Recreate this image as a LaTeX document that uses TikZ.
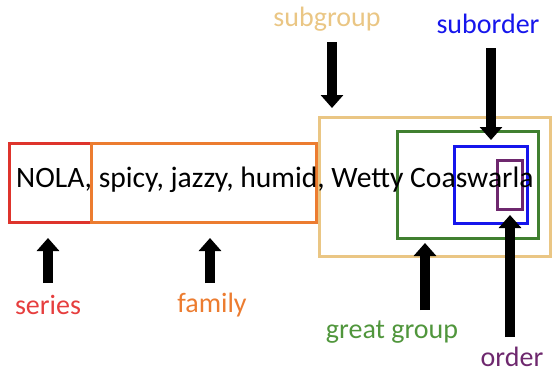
\documentclass[tikz,border=0pt]{standalone}
\usepackage{fontspec}
\setmainfont{Carlito}
\usetikzlibrary{arrows.meta}
\definecolor{cseries}{RGB}{222,52,44}
\definecolor{cfamily}{RGB}{236,124,48}
\definecolor{csubgroup}{RGB}{234,198,132}
\definecolor{cgreat}{RGB}{64,128,48}
\definecolor{csuborder}{RGB}{22,22,236}
\definecolor{corder}{RGB}{110,40,110}
\definecolor{lseries}{RGB}{230,62,62}
\definecolor{lgreat}{RGB}{80,150,60}
\begin{document}
\begin{tikzpicture}[x=1pt,y=-1pt,
  box/.style={draw,line width=3pt,inner sep=0pt,outer sep=0pt},
  lab/.style={font=\fontsize{28}{30}\selectfont},
  bigarrow/.style={line width=9.5pt,-{Triangle[width=22pt,length=13pt]}}]
\useasboundingbox (0,0) rectangle (552,373);

% nested boxes
\node[box,cseries,minimum width=82pt,minimum height=79pt] (series) at (50.5,182.5) {};
\node[box,cfamily,minimum width=224.5pt,minimum height=79pt] (family) at (203.75,182.5) {};
\node[box,csubgroup,minimum width=231pt,minimum height=139pt] (subgroup) at (434.5,186.5) {};
\node[box,cgreat,minimum width=141pt,minimum height=107pt] (great) at (467.5,184.5) {};
\node[box,csuborder,minimum width=73pt,minimum height=77pt] (suborder) at (490.5,184.5) {};
\node[box,corder,minimum width=25pt,minimum height=49pt] (order) at (509.5,184.5) {};

% the name itself
\node[font=\fontsize{29.6}{32}\selectfont,anchor=base west,inner sep=0pt] (name) at (16,187.5) {NOLA, spicy, jazzy, humid, Wetty Coaswarla};

% labels
\node[lab,text=csubgroup] (lsubgroup) at (327,19) {subgroup};
\node[lab,text=csuborder] (lsuborder) at (488,24) {suborder};
\node[lab,text=lgreat] (lgreat) at (392,332) {great group};
\node[lab,text=corder] (lorder) at (512,357) {order};
\node[lab,text=lseries] (lseries) at (48,305) {series};
\node[lab,text=cfamily] (lfamily) at (212,305) {family};

% arrow tails
\coordinate (tsubgroup) at (332,42);
\coordinate (tsuborder) at (491,48);
\coordinate (tgreat) at (425,310);
\coordinate (torder) at (510,337);
\coordinate (tseries) at (48,283);
\coordinate (tfamily) at (210,283);

\draw[bigarrow,shorten >=9pt] (tsubgroup) -- (subgroup.north -| tsubgroup);
\draw[bigarrow,shorten >=6pt] (tsuborder) -- (suborder.north -| tsuborder);
\draw[bigarrow,shorten >=5pt] (tgreat) -- (great.south -| tgreat);
\draw[bigarrow,shorten >=6pt] (torder) -- (order.south -| torder);
\draw[bigarrow,shorten >=16pt] (tseries) -- (series.south -| tseries);
\draw[bigarrow,shorten >=16pt] (tfamily) -- (family.south -| tfamily);
\end{tikzpicture}
\end{document}
